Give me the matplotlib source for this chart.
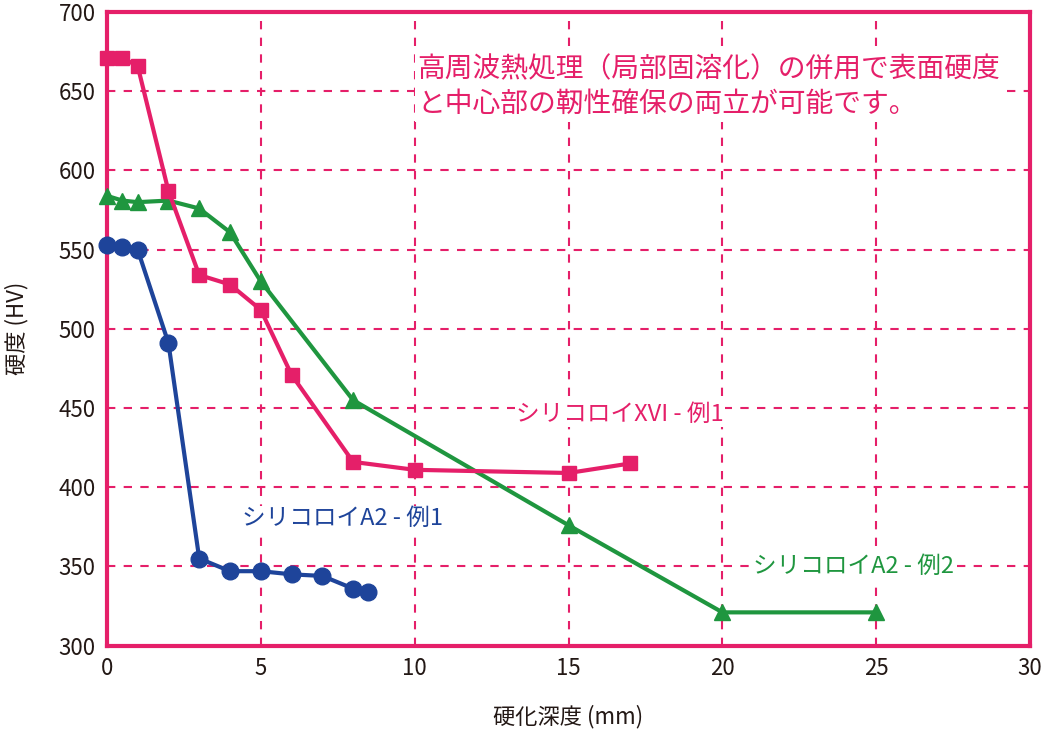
import matplotlib
matplotlib.use("Agg")
import matplotlib.pyplot as plt

plt.rcParams['font.family'] = ['Noto Sans CJK JP', 'DejaVu Sans']

pink_x = [0, 0.5, 1, 2, 3, 4, 5, 6, 8, 10, 15, 17]
pink_y = [671, 671, 666, 587, 534, 528, 512, 471, 416, 411, 409, 415]
green_x = [0, 0.5, 1, 2, 3, 4, 5, 8, 15, 20, 25]
green_y = [584, 581, 580, 581, 576, 561, 530, 455, 376, 321, 321]
blue_x = [0, 0.5, 1, 2, 3, 4, 5, 6, 7, 8, 8.5]
blue_y = [553, 552, 550, 491, 355, 347, 347, 345, 344, 336, 334]

xticks = [0, 5, 10, 15, 20, 25, 30]
yticks = [300, 350, 400, 450, 500, 550, 600, 650, 700]

PINK = '#E51F69'
GREEN = '#1F963F'
BLUE = '#1E449A'

fig = plt.figure(figsize=(10.48, 7.56), dpi=100)
ax = fig.add_axes([0.102, 0.146, 0.881, 0.838])

ax.plot(pink_x, pink_y, color=PINK, lw=3, marker='s', ms=10, zorder=4, clip_on=False)
ax.plot(green_x, green_y, color=GREEN, lw=3, marker='^', ms=11, zorder=3, clip_on=False)
ax.plot(blue_x, blue_y, color=BLUE, lw=3, marker='o', ms=12, zorder=5, clip_on=False)

ax.set_xlim(0, 30)
ax.set_ylim(300, 700)
ax.set_xticks(xticks)
ax.set_yticks(yticks)
ax.tick_params(length=0, labelsize=16, colors='#231815', pad=8)
for s in ax.spines.values():
    s.set_color(PINK)
    s.set_linewidth(3)
ax.grid(True, color=PINK, ls=(0, (4, 4)), lw=1.5)
ax.set_axisbelow(True)

ax.set_xlabel('硬化深度 (mm)', fontsize=16, color='#231815', labelpad=18)
ax.set_ylabel('硬度 (HV)', fontsize=16, color='#231815', labelpad=22)

ax.text(10.1, 653, '高周波熱処理（局部固溶化）の併用で表面硬度\nと中心部の靭性確保の両立が可能です。',
        fontsize=20, color=PINK, va='center', ha='left', linespacing=1.2,
        bbox=dict(facecolor='white', edgecolor='none', pad=2), zorder=6)
ax.text(13.3, 446, 'シリコロイXVI - 例1', fontsize=17, color=PINK, ha='left', va='center',
        bbox=dict(facecolor='white', edgecolor='none', pad=1), zorder=6)
ax.text(4.4, 380, 'シリコロイA2 - 例1', fontsize=17, color=BLUE, ha='left', va='center',
        bbox=dict(facecolor='white', edgecolor='none', pad=1), zorder=6)
ax.text(21.0, 350, 'シリコロイA2 - 例2', fontsize=17, color=GREEN, ha='left', va='center',
        bbox=dict(facecolor='white', edgecolor='none', pad=2), zorder=6)

fig.savefig('out.png', dpi=100)
